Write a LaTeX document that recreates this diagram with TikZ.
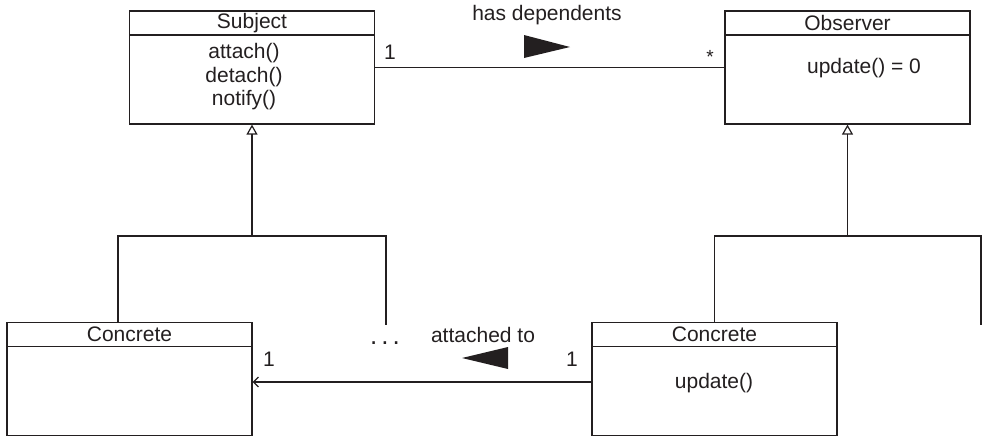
\documentclass[tikz,border=0pt]{standalone}
\usepackage{fontspec}
\setmainfont{Liberation Sans}
\usepackage{tikz}
\usetikzlibrary{arrows.meta,positioning}
\definecolor{umlInk}{RGB}{35,31,32}
\tikzset{
  classbox/.style={draw=umlInk, line width=1.2pt, minimum width=245pt, minimum height=113pt, inner sep=0pt},
  classhead/.style={draw=umlInk, line width=1.2pt, minimum width=245pt, minimum height=24pt, inner sep=0pt, anchor=north},
  umltext/.style={text=umlInk, font=\fontsize{21}{23.5}\selectfont, inner sep=0pt},
  umlline/.style={draw=umlInk, line width=1.2pt},
}

\begin{document}
\begin{tikzpicture}[x=1pt,y=-1pt]
\useasboundingbox (0,0) rectangle (983,437);
\node[classbox] (subj) at (252,67.5) {};
\node[classhead, umltext] (subjT) at (subj.north) {Subject};
\node[umltext, align=center] (subjOps) at (244,77) {attach()\\detach()\\notify()};
\node[classbox] (obs) at (847.5,67.5) {};
\node[classhead, umltext] (obsT) at (obs.north) {Observer};
\node[umltext] (obsOps) at (864,68) {update() = 0};
\node[classbox] (conL) at (129.5,379) {};
\node[classhead, umltext] (conLT) at (conL.north) {Concrete};
\node[classbox] (conR) at (714.5,379) {};
\node[classhead, umltext] (conRT) at (conR.north) {Concrete};
\node[umltext] (conROps) at (714,383) {update()};

\draw[umlline] (subj.east) -- (obs.west);
\node[umltext] (assocName) at (547,15) {has dependents};
\node[umltext] (subjMult) at (390,52) {1};
\node[umltext, font=\fontsize{19}{21}\selectfont] (obsMult) at (710,57) {*};
\fill[umlInk] (524,35) -- (570,47) -- (524,58) -- cycle;

\coordinate (subjJoin) at (252,236);
\coordinate (subjMore) at (386,325);
\draw[umlline, {Triangle[open, width=11pt, length=10pt]}-] (subj.south) -- (subjJoin);
\draw[umlline] ([xshift=-11.5pt]conL.north) |- (subjJoin) -| (subjMore);
\coordinate (obsJoin) at (847.5,236);
\coordinate (obsMore) at (981,325);
\draw[umlline, {Triangle[open, width=11pt, length=10pt]}-] (obs.south) -- (obsJoin);
\draw[umlline] (conR.north) |- (obsJoin) -| (obsMore);

\draw[umlline, {Straight Barb[length=5pt, width=10pt]}-] ([yshift=-3pt]conL.east) -- ([yshift=-3pt]conR.west);
\node[umltext] (backName) at (483,335) {attached to};
\node[umltext] (conLMult) at (269,359) {1};
\node[umltext] (conRMult) at (572,359) {1};
\node[umltext, font=\fontsize{26}{28}\selectfont] (moreDots) at (385,343) {.\hspace{4pt}.\hspace{4pt}.};
\fill[umlInk] (508,347) -- (462,358) -- (508,369) -- cycle;
\end{tikzpicture}
\end{document}
